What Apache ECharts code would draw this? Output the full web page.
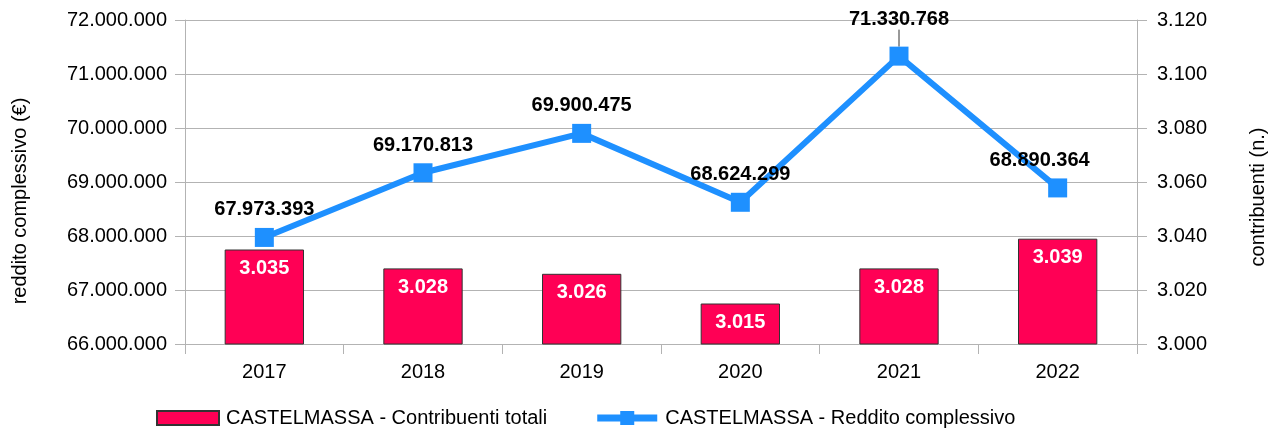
<!DOCTYPE html>
<html>
<head>
<meta charset="utf-8">
<script src="https://cdn.jsdelivr.net/npm/echarts@6/dist/echarts.min.js"></script>
<style>
    html, body { margin: 0; padding: 0; background: #fff; }
    #div1 { width: 1275px; height: 430px; }
</style>
</head>
<body>
<div id="div1"></div>
<script>
// dati
var anni = ['2017', '2018', '2019', '2020', '2021', '2022'];
var contribuenti = [3035, 3028, 3026, 3015, 3028, 3039];
var reddito = [67973393, 69170813, 69900475, 68624299, 71330768, 68890364];
var nomeBarre = 'CASTELMASSA - Contribuenti totali';
var nomeLinea = 'CASTELMASSA - Reddito complessivo';

// numero con i punti delle migliaia
function puntiMigliaia(v) {
    return String(Math.round(v)).replace(/\B(?=(\d{3})+(?!\d))/g, '.');
}

var font = "'Liberation Sans', Arial, sans-serif";
var grigio = '#b3b3b3';

var datiLinea = reddito.map(function(v, i) {
    if (i === 4) return { value: v, labelLine: { show: true } };
    return v;
});

// tacche esterne, uguali per tutti gli assi
var tacca = { show: true, inside: false, length: 10, lineStyle: { color: grigio, width: 1 } };

var chart = echarts.init(document.getElementById('div1'));
var option = {
    animation: false,
    textStyle: { fontFamily: font },
    grid: { left: 185, right: 138, top: 20, bottom: 86, containLabel: false, outerBoundsMode: 'none' },
    legend: {
        left: 156,
        top: 408,
        padding: 0,
        itemWidth: 62,
        itemHeight: 14,
        itemGap: 50,
        textStyle: { fontSize: 20, color: '#000', fontFamily: font, padding: [0, 0, 0, 2] },
        data: [
            { name: nomeBarre, icon: 'rect' },
            { name: nomeLinea, icon: 'path://M0,3.5 h60 v7 h-60 z M23,0 h14 v14 h-14 z' }
        ]
    },
    xAxis: {
        type: 'category',
        data: anni,
        axisLine: { show: true, lineStyle: { color: grigio } },
        axisTick: tacca,
        axisLabel: { fontSize: 20, color: '#000', margin: 18 }
    },
    yAxis: [
        {
            type: 'value',
            min: 66000000,
            max: 72000000,
            interval: 1000000,
            name: 'reddito complessivo (€)',
            nameLocation: 'middle',
            nameRotate: 90,
            nameGap: 155,
            nameTextStyle: { fontSize: 20, color: '#000', padding: [0, 38, 0, 0] },
            axisLine: { show: true, lineStyle: { color: grigio } },
            axisTick: tacca,
            axisLabel: { fontSize: 20, color: '#000', margin: 18, formatter: puntiMigliaia },
            splitLine: { lineStyle: { color: grigio } }
        },
        {
            type: 'value',
            min: 3000,
            max: 3120,
            interval: 20,
            name: 'contribuenti (n.)',
            nameLocation: 'middle',
            nameRotate: 90,
            nameGap: 111,
            nameTextStyle: { fontSize: 20, color: '#000', padding: [0, 30, 0, 0] },
            axisLine: { show: true, lineStyle: { color: grigio } },
            axisTick: tacca,
            axisLabel: { fontSize: 20, color: '#000', margin: 20, formatter: puntiMigliaia },
            splitLine: { show: false }
        }
    ],
    series: [
        {
            name: nomeBarre,
            type: 'bar',
            yAxisIndex: 1,
            barWidth: '50%',
            data: contribuenti,
            itemStyle: { color: '#ff0055', borderColor: '#333', borderWidth: 1 },
            label: {
                show: true,
                position: 'insideTop',
                distance: 9,
                color: '#fff',
                fontSize: 20,
                fontWeight: 'bold',
                formatter: function(p) { return puntiMigliaia(p.value); }
            }
        },
        {
            name: nomeLinea,
            type: 'line',
            yAxisIndex: 0,
            data: datiLinea,
            symbol: 'rect',
            symbolSize: 19,
            lineStyle: { color: '#1e90ff', width: 6 },
            itemStyle: { color: '#1e90ff' },
            z: 5,
            label: {
                show: true,
                position: 'top',
                distance: 8,
                color: '#000',
                fontSize: 20,
                fontWeight: 'bold',
                formatter: function(p) { return puntiMigliaia(p.value); }
            },
            labelLine: { show: false, lineStyle: { color: '#333', width: 1 } },
            labelLayout: function(p) {
                if (p.dataIndex === 4) return { dy: -9 };
                if (p.dataIndex === 5) return { dx: -18 };
                return {};
            }
        }
    ]
};
chart.setOption(option);
</script>
</body>
</html>
